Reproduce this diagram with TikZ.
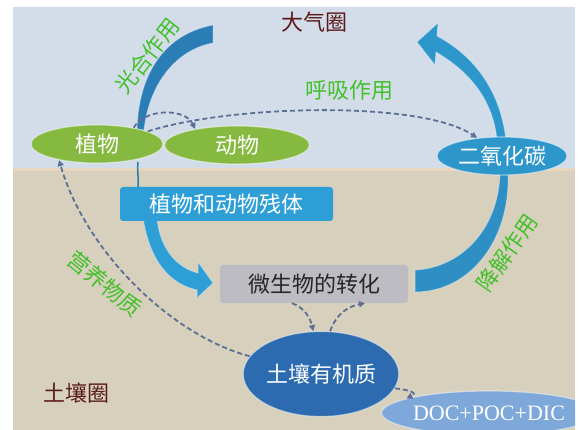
\documentclass[tikz,border=0pt]{standalone}
\usepackage{fontspec}
\setmainfont{Liberation Serif}
\newfontfamily\cjk{Noto Sans CJK SC}
\usetikzlibrary{arrows.meta,shapes.geometric,calc}
\definecolor{sky}{HTML}{D3DDEA}
\definecolor{soil}{HTML}{D6D0BD}
\definecolor{edgeline}{HTML}{E8D6C0}
\definecolor{plantgreen}{HTML}{86B940}
\definecolor{labgreen}{HTML}{44C02B}
\definecolor{co2blue}{HTML}{2D97CC}
\definecolor{restblue}{HTML}{2E9FD6}
\definecolor{microgray}{HTML}{BDBCC2}
\definecolor{somblue}{HTML}{2C6BAF}
\definecolor{docblue}{HTML}{7FA8DA}
\definecolor{dashc}{HTML}{5C6E94}
\definecolor{sphere}{HTML}{5B1A1A}
\definecolor{swoosh}{HTML}{2A7EB5}
\definecolor{arcblue}{HTML}{2E8FC4}
\begin{document}
\begin{tikzpicture}[x=1pt,y=-1pt,
  lbl/.style={font=\cjk\fontsize{22}{24}\selectfont},
  ell/.style={ellipse, inner sep=0pt, text=white, lbl, draw=white, draw opacity=0.45, line width=1.2pt},
  boxnode/.style={rectangle, rounded corners=3pt, inner sep=0pt, lbl},
  glabel/.style={lbl, text=labgreen},
  sphlabel/.style={lbl, text=sphere},
  flow/.style={draw=dashc, line width=1.8pt, dash pattern=on 5pt off 3pt, -{Triangle[length=6pt,width=6pt]}},
  band/.style={draw=white, draw opacity=0.35, line width=1pt}
]
\useasboundingbox (0,0) rectangle (579,430);
\fill[white] (0,0) rectangle (579,430);
\begin{scope}
\clip (13,7) rectangle (575,430);
\fill[sky] (13,7) rectangle (575,170);
\fill[soil] (13,170) rectangle (575,430);
\draw[edgeline, line width=3pt] (13,170) -- (575,170);

% sphere labels
\node[sphlabel] (atm) at (314,22) {大气圈};
\node[sphlabel] (pedo) at (76,393) {土壤圈};

% photosynthesis swoosh
\fill[swoosh, band] (137,130) .. controls (138,80) and (160,35) .. (213,25) -- (213,43)
   .. controls (175,50) and (149,85) .. (144,130) -- cycle;
% CO2 upward arrow
\fill[co2blue, band] (506,140) .. controls (501,95) and (478,58) .. (437,36)
   -- (438,23) -- (417,42) -- (435,65) -- (436,52)
   .. controls (470,72) and (493,100) .. (497,140) -- cycle;
% decomposition arc
\fill[arcblue, band] (508,172) .. controls (511,240) and (470,292) .. (415,292)
   -- (415,270) .. controls (460,268) and (499,230) .. (500,172) -- cycle;
% residue -> microbes arrow
\fill[restblue, band] (143,218) .. controls (150,262) and (170,284) .. (197,290)
   -- (197,298) -- (213,283) -- (198,262) -- (198,273)
   .. controls (178,268) and (160,250) .. (157,218) -- cycle;

% nodes
\node[ell, fill=plantgreen, minimum width=132pt, minimum height=38pt] (plant) at (97,144) {植物};
\node[ell, fill=plantgreen, minimum width=145pt, minimum height=38pt] (animal) at (237,145) {动物};
\node[ell, fill=co2blue, minimum width=130pt, minimum height=38pt] (co2) at (502,156) {二氧化碳};
\node[boxnode, fill=restblue, text=white, minimum width=213pt, minimum height=34pt] (rest) at (226.5,204) {植物和动物残体};
\node[boxnode, fill=microgray, text=black!85, minimum width=188pt, minimum height=38pt] (micro) at (314,284) {微生物的转化};
\node[ell, fill=somblue, minimum width=152pt, minimum height=85pt] (som) at (321,374) {土壤有机质};
\node[ell, fill=docblue, minimum width=172pt, minimum height=44pt, font=\fontsize{22}{24}\selectfont] (doc) at (489,413) {DOC+POC+DIC};

% thin link plant -> residue
\coordinate (ptail) at (138,162);
\coordinate (rtop) at (138,187);
\draw[restblue!80!black, line width=1.5pt] (ptail) .. controls (137,172) and (139,180) .. (rtop);

% dashed flows
\draw[flow] (plant.24) .. controls (145,108) and (185,108) .. (animal.159);
\draw[flow] (plant.14) .. controls (230,105) and (420,100) .. (co2.144);
\draw[flow] (som.166) .. controls (170,335) and (85,250) .. (plant.203);
\draw[flow] ([xshift=-22pt]micro.south) .. controls (305,308) and (310,318) .. (som.100);
\draw[flow] (som.78) .. controls (337,312) and (350,306) .. ([xshift=51pt]micro.south);
\draw[flow] (som.-11) .. controls (410,390) and (418,393) .. (doc.170);

% process labels
\node[glabel, rotate=52] (photo) at (147,56) {光合作用};
\node[glabel] (resp) at (349,90) {呼吸作用};
\node[glabel, rotate=-39] (nutri) at (105,284) {营养物质};
\node[glabel, rotate=55] (decomp) at (507,253) {降解作用};
\end{scope}
\end{tikzpicture}
\end{document}
